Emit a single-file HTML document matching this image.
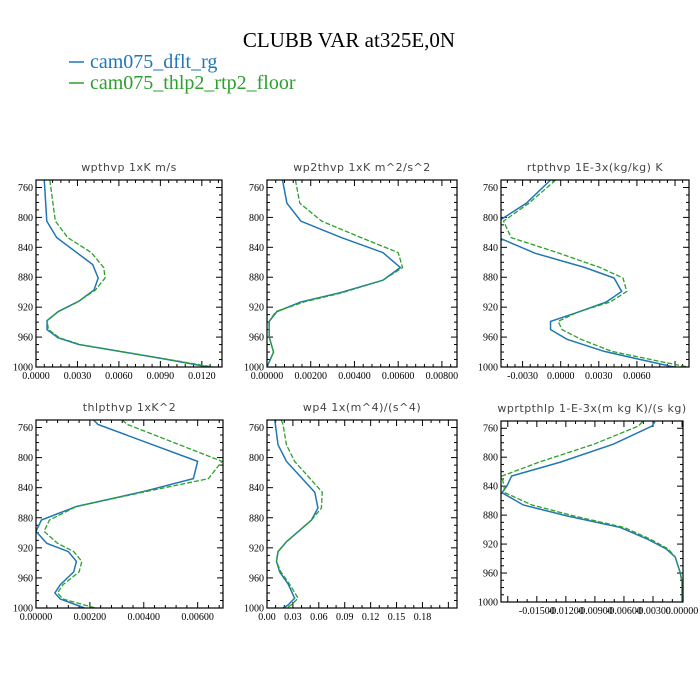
<!DOCTYPE html>
<html><head><meta charset="utf-8"><style>
body{margin:0;background:#fff;}
svg{display:block;}
.tl{font-family:"Liberation Serif",serif;font-size:10px;fill:#000;}
.pt{font-family:"DejaVu Sans","Liberation Sans",sans-serif;font-size:11px;fill:#444;letter-spacing:0.5px;}
</style></head><body>
<svg id="chart" width="700" height="700" viewBox="0 0 700 700" xmlns="http://www.w3.org/2000/svg">
<text x="349" y="47" text-anchor="middle" font-family="Liberation Serif,serif" font-size="21" fill="#000">CLUBB VAR at325E,0N</text>
<g>
<g><line x1="69" y1="62" x2="84" y2="62" stroke="#1f77b4" stroke-width="1.5"/><text x="90" y="68" font-family="Liberation Serif,serif" font-size="20" fill="#1f77b4">cam075_dflt_rg</text></g>
<g><line x1="69" y1="83" x2="84" y2="83" stroke="#2ca02c" stroke-width="1.5"/><text x="90" y="89" font-family="Liberation Serif,serif" font-size="20" fill="#2ca02c">cam075_thlp2_rtp2_floor</text></g>
</g>
</svg>
<script>
// shared pressure ticks
const yTicks = [760, 800, 840, 880, 920, 960, 1000];

// panel 1: wpthvp
const p1P = [750,805,827,863,881,897,912,926,938,950,961,970,979,989,1000];
const p1Blue = [0.0006,0.00078,0.0015,0.0041,0.0045,0.0042,0.0031,0.0016,0.0008,0.0008,0.0016,0.0031,0.006,0.0092,0.0125];
const p1Green = [0.0010,0.0014,0.0023,0.0040,0.0049,0.0050,0.0043,0.0031,0.0016,0.0008,0.0009,0.0017,0.0032,0.0061,0.0093,0.0128];
const p1PG = [750,805,827,847,867,881,897,912,926,938,950,961,970,979,989,1000];
const p1Ticks = [0,0.003,0.006,0.009,0.012];

// panel 2: wp2thvp
const p2P = [750,781,805,827,847,867,884,901,913,926,939,960,980,1000];
const p2Blue = [0.00071,0.00091,0.00155,0.0034,0.0053,0.0061,0.0053,0.0033,0.00155,0.00045,0.0001,0.0001,0.0003,0.0];
const p2Green = [0.0013,0.0015,0.0025,0.0043,0.0060,0.0062,0.0053,0.0034,0.0017,0.0004,0.0001,0.0001,0.0003,0.0];
const p2Ticks = [0,0.002,0.004,0.006,0.008];

// panel 3: rtpthvp
const p3P = [750,781,805,827,848,867,881,899,913,927,939,950,963,979,989,1000];
const p3Blue = [-0.0008,-0.0027,-0.0049,-0.0049,-0.0020,0.0019,0.0042,0.0048,0.0036,0.0013,-0.0008,-0.0008,0.0005,0.0034,0.0060,0.0089];
const p3Green = [-0.0004,-0.0025,-0.0045,-0.0039,-0.0001,0.0031,0.0049,0.0052,0.0039,0.0013,-0.0002,0.0001,0.0016,0.0040,0.0068,0.0100];
const p3Ticks = [-0.003,0,0.003,0.006];

// panel 4: thlpthvp
const p4P = [750,756,805,828,845,865,883,898,914,925,938,952,969,980,988,1000];
const p4Blue = [0.00214,0.0023,0.0060,0.00584,0.0040,0.0015,0.0002,0.0,0.0004,0.0012,0.0015,0.0014,0.0009,0.0007,0.0009,0.0018];
const p4Green = [0.0032,0.0034,0.0069,0.0064,0.0041,0.0015,0.0005,0.0003,0.0008,0.0014,0.0017,0.0016,0.0010,0.0008,0.0010,0.0022];
const p4Ticks = [0,0.002,0.004,0.006];

// panel 5: wp4
const p5P = [750,756,783,805,846,867,883,912,925,938,952,968,987,996,1000];
const p5Blue = [0.009,0.0097,0.0128,0.0225,0.0553,0.059,0.0515,0.0225,0.0128,0.011,0.0147,0.0244,0.032,0.0244,0.0186];
const p5Green = [0.0166,0.0186,0.0225,0.032,0.064,0.063,0.0515,0.0225,0.0128,0.011,0.016,0.026,0.036,0.028,0.0225];
const p5Ticks = [0,0.03,0.06,0.09,0.12,0.15,0.18];

// panel 6: wprtpthlp
const p6P = [751,757,782,807,826,840,849,866,881,897,913,927,938,959,972,1000];
const p6Blue = [-0.0028,-0.0031,-0.0071,-0.0126,-0.0176,-0.0181,-0.0186,-0.0164,-0.0119,-0.0064,-0.0036,-0.0016,-0.0007,-0.0002,0,0];
const p6Green = [-0.0041,-0.0045,-0.0091,-0.0148,-0.0186,-0.0184,-0.0183,-0.0155,-0.0112,-0.006,-0.0033,-0.0014,-0.0007,-0.0002,0,0];
const p6Ticks = [-0.015,-0.012,-0.009,-0.006,-0.003,0];

const titles = ["wpthvp  1xK m/s","wp2thvp  1xK m^2/s^2","rtpthvp  1E-3x(kg/kg) K","thlpthvp  1xK^2","wp4  1x(m^4)/(s^4)","wprtpthlp  1-E-3x(m kg K)/(s kg)"];

const NS = "http://www.w3.org/2000/svg";
const svg = document.getElementById('chart');
function mk(tag, attrs, parent){const e=document.createElementNS(NS,tag);for(const k in attrs)e.setAttribute(k,attrs[k]);parent.appendChild(e);return e;}

function panel(idx, box, xmin, xmax, pB, blue, pG, green, ticks, dec, minorN){
  const [x0,y0,x1,y1] = box;
  const g = mk('g',{},svg);
  
  
  const X = v => x0 + (v-xmin)/(xmax-xmin)*(x1-x0);
  const Y = p => y0 + (p-750)/(1000-750)*(y1-y0);
  const t = mk('text',{x:(x0+x1)/2,y:y0-9,'text-anchor':'middle','class':'pt'},g);
  
  
  t.textContent = titles[idx];
  // y ticks
  for(let p=750;p<=1000;p+=10){
    const major = yTicks.includes(p);
    const L = major?6:3;
    mk('line',{x1:x0,y1:Y(p),x2:x0+L,y2:Y(p),stroke:'#000','stroke-width':1},g);
    mk('line',{x1:x1,y1:Y(p),x2:x1-L,y2:Y(p),stroke:'#000','stroke-width':1},g);
  }
  yTicks.forEach(p=>{
    const tx = mk('text',{x:x0-3,y:Y(p)+3.5,'text-anchor':'end','class':'tl'},g);
    
    
    tx.textContent = p;
  });
  // x ticks
  const step = ticks[1]-ticks[0];
  for(let i=-minorN*2;i<=(ticks.length+2)*minorN;i++){
    const v = ticks[0]+i*step/minorN;
    if(v<xmin-1e-9||v>xmax+1e-9) continue;
    const major = (i%minorN===0);
    const L = major?6:3;
    mk('line',{x1:X(v),y1:y1,x2:X(v),y2:y1-L,stroke:'#000','stroke-width':1},g);
    mk('line',{x1:X(v),y1:y0,x2:X(v),y2:y0+L,stroke:'#000','stroke-width':1},g);
  }
  ticks.forEach(v=>{
    const tx = mk('text',{x:X(v),y:y1+12,'text-anchor':'middle','class':'tl'},g);
    
    
    tx.textContent = v.toFixed(dec);
  });
  const clip = 'clip'+idx;
  const cp = mk('clipPath',{id:clip},g);
  mk('rect',{x:x0,y:y0,width:x1-x0,height:y1-y0},cp);
  const lb = mk('polyline',{points:pB.map((p,i)=>X(blue[i])+','+Y(p)).join(' '),fill:'none',stroke:'#1f77b4','stroke-width':1.5,'clip-path':'url(#'+clip+')'},g);
  
  
  const lg = mk('polyline',{points:pG.map((p,i)=>X(green[i])+','+Y(p)).join(' '),fill:'none',stroke:'#2ca02c','stroke-width':1.3,'stroke-dasharray':'5,2','clip-path':'url(#'+clip+')'},g);
  
  
  const fr = mk('rect',{x:x0,y:y0,width:x1-x0,height:y1-y0,fill:'none',stroke:'#000','stroke-width':1.2},g);
  
  
}
panel(0,[36,180,222,367],0,0.01346,p1P,p1Blue,p1PG,p1Green,p1Ticks,4,5);
panel(1,[267,180,457,367],0,0.00869,p2P,p2Blue,p2P,p2Green,p2Ticks,5,5);
panel(2,[501,180,689,367],-0.0047,0.0101,p3P,p3Blue,p3P,p3Green,p3Ticks,4,5);
panel(3,[36,420,223,608],0,0.00694,p4P,p4Blue,p4P,p4Green,p4Ticks,5,5);
panel(4,[267,420,457,608],0,0.22,p5P,p5Blue,p5P,p5Green,p5Ticks,2,3);
panel(5,[501,421,683,602],-0.0187,0.0001,p6P,p6Blue,p6P,p6Green,p6Ticks,5,3);
</script>
</body></html>
